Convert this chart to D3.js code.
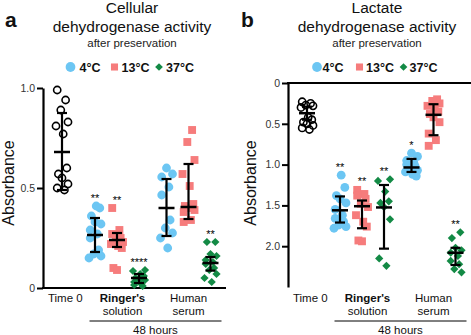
<!DOCTYPE html>
<html><head><meta charset="utf-8">
<script src="https://cdn.jsdelivr.net/npm/d3@7"></script>
<style>body{margin:0;background:#fff} svg{display:block;font-family:"Liberation Sans",Arial,Helvetica,sans-serif}</style>
</head><body><svg id="c" width="471" height="335"></svg>
<script>
// ---------- DATA ----------
const conditions = ["Time 0", "Ringer 4°C", "Ringer 13°C", "Ringer 37°C", "Serum 4°C", "Serum 13°C", "Serum 37°C"];
const conditionType = ["t0", "c4", "c13", "c37", "c4", "c13", "c37"];
const groupLabels = [["Time 0"], ["Ringer's", "solution"], ["Human", "serum"]];
const legendLabels = ["4°C", "13°C", "37°C"];
const periodLabel = "48 hours";

// Panel a: cellular dehydrogenase activity
const a_time0    = [0.99, 0.94, 0.89, 0.83, 0.81, 0.77, 0.60, 0.57, 0.55, 0.52, 0.50, 0.49];
const a_ringer4  = [0.41, 0.40, 0.36, 0.33, 0.32, 0.29, 0.27, 0.25, 0.19, 0.17, 0.16, 0.15];
const a_ringer13 = [0.40, 0.29, 0.27, 0.25, 0.24, 0.23, 0.22, 0.21, 0.20, 0.10, 0.09];
const a_ringer37 = [0.09, 0.085, 0.07, 0.06, 0.05, 0.045, 0.04, 0.03, 0.02, 0.015, 0.01];
const a_serum4   = [0.60, 0.57, 0.555, 0.505, 0.465, 0.34, 0.30, 0.275, 0.25, 0.20];
const a_serum13  = [0.79, 0.73, 0.64, 0.57, 0.51, 0.42, 0.41, 0.40, 0.39, 0.38, 0.34, 0.33];
const a_serum37  = [0.23, 0.23, 0.17, 0.16, 0.14, 0.13, 0.12, 0.10, 0.09, 0.07, 0.05, 0.03];
const a_center = [0.68, 0.265, 0.24, 0.05, 0.40, 0.405, 0.125];
const a_low    = [0.49, 0.18, 0.205, 0.025, 0.26, 0.345, 0.087];
const a_high   = [0.875, 0.35, 0.275, 0.07, 0.545, 0.62, 0.155];
const a_stars  = ["", "**", "**", "****", "", "", "**"];
const a_ticks  = [0, 0.5, 1.0];

// Panel b: lactate dehydrogenase activity (reversed axis)
const b_time0    = [0.23, 0.25, 0.27, 0.28, 0.30, 0.42, 0.45, 0.48, 0.50, 0.52, 0.55, 0.57];
const b_ringer4  = [1.13, 1.28, 1.38, 1.42, 1.47, 1.55, 1.62, 1.66, 1.70, 1.74, 1.76, 1.78];
const b_ringer13 = [1.31, 1.36, 1.38, 1.42, 1.48, 1.52, 1.62, 1.70, 1.76, 1.93, 1.94];
const b_ringer37 = [1.18, 1.20, 1.33, 1.45, 1.47, 1.52, 1.67, 2.15, 2.24];
const b_serum4   = [0.86, 0.90, 0.95, 0.98, 1.00, 1.02, 1.05, 1.07, 1.09, 1.12, 1.14];
const b_serum13  = [0.20, 0.22, 0.25, 0.28, 0.30, 0.35, 0.38, 0.42, 0.48, 0.62, 0.70, 0.77];
const b_serum37  = [1.83, 1.90, 2.02, 2.05, 2.08, 2.12, 2.18, 2.22, 2.28, 2.32];
const b_center = [0.37, 1.56, 1.51, 1.525, 1.035, 0.39, 2.08];
const b_low    = [0.29, 1.39, 1.44, 1.25, 0.93, 0.26, 2.02];
const b_high   = [0.45, 1.71, 1.78, 2.03, 1.09, 0.64, 2.23];
const b_stars  = ["", "**", "**", "**", "*", "", "**"];
const b_ticks  = [0, 0.5, 1.0, 1.5, 2.0];

// ---------- STYLE / LAYOUT ----------
const colors = {t0: "#000", c4: "#6cc6f3", c13: "#f67c7c", c37: "#138a45"};
const slots = [0, 1.5, 2.5, 3.5, 4.75, 5.75, 6.75];
const labelSlots = [0.15, 2.75, 5.75];
const JIT = [-4, 3, -1, 5, -5, 1, 4, -3, 0, 5, -4, 2];

const svg = d3.select("#c");
svg.append("rect").attr("width", 471).attr("height", 335).attr("fill", "#fff");

function panel(cfg) {
  const g = svg.append("g");
  const y = d3.scaleLinear().domain(cfg.domain).range(cfg.range);
  const x = d3.scaleLinear().domain([0, 6.75]).range([cfg.ax + 19, cfg.ax + 167.5]);

  // titles
  g.append("text").attr("x", cfg.tx).attr("y", 13).attr("text-anchor", "middle")
    .attr("font-size", 15.5).attr("fill", "#111").text(cfg.title1);
  g.append("text").attr("x", cfg.tx).attr("y", 32).attr("text-anchor", "middle")
    .attr("font-size", 15.5).attr("fill", "#111").text(cfg.title2);
  g.append("text").attr("x", cfg.tx).attr("y", 47).attr("text-anchor", "middle")
    .attr("font-size", 11.5).attr("fill", "#222").text("after preservation");
  g.append("text").attr("x", cfg.lx).attr("y", 27).attr("font-size", 21)
    .attr("font-weight", "bold").attr("fill", "#111").text(cfg.letter);

  // legend
  const legTypes = ["c4", "c13", "c37"];
  const legSym = [d3.symbolCircle, d3.symbolSquare, d3.symbolSquare];
  const legSize = [75, 50, 30];
  legTypes.forEach((t, i) => {
    g.append("path").attr("d", d3.symbol(legSym[i], legSize[i])())
      .attr("transform", `translate(${cfg.legSym[i]},67)` + (i === 2 ? " rotate(45)" : ""))
      .attr("fill", colors[t]);
    g.append("text").attr("x", cfg.legTxt[i]).attr("y", 71.5).attr("font-size", 12.5)
      .attr("font-weight", "bold").attr("fill", "#111").text(legendLabels[i]);
  });

  // y axis
  const ax = g.append("g").attr("transform", `translate(${cfg.ax},0)`)
    .call(d3.axisLeft(y).tickValues(cfg.ticks).tickSize(6).tickSizeOuter(0).tickPadding(2)
      .tickFormat(d => d === 0 ? "0" : d3.format(".1f")(d)));
  ax.select(".domain").attr("stroke", "#000").attr("stroke-width", 2.2);
  ax.selectAll(".tick line").attr("stroke", "#000").attr("stroke-width", 2);
  ax.selectAll(".tick text").attr("font-size", 10.5).attr("fill", "#333")
    .attr("font-family", "Liberation Sans, Arial, sans-serif");
  // x baseline
  g.append("line").attr("x1", cfg.ax - 1).attr("x2", cfg.xEnd)
    .attr("y1", y(0)).attr("y2", y(0)).attr("stroke", "#000").attr("stroke-width", 2.2);

  g.append("text").attr("transform", `translate(${cfg.ylx},${183}) rotate(-90)`)
    .attr("text-anchor", "middle").attr("font-size", 16).attr("fill", "#111").text("Absorbance");

  // points
  cfg.series.forEach((vals, i) => {
    const t = conditionType[i];
    const cx = x(slots[i]);
    vals.forEach((v, j) => {
      const dx = JIT[(j + i * 5) % JIT.length] * 1.2;
      const px = cx + dx, py = y(v);
      if (t === "t0") {
        g.append("circle").attr("cx", px).attr("cy", py).attr("r", 3.6)
          .attr("fill", "none").attr("stroke", "#000").attr("stroke-width", 1.6);
      } else if (t === "c4") {
        g.append("circle").attr("cx", px).attr("cy", py).attr("r", 4.4).attr("fill", colors.c4);
      } else if (t === "c13") {
        g.append("path").attr("d", d3.symbol(d3.symbolSquare, 62)())
          .attr("transform", `translate(${px},${py})`).attr("fill", colors.c13);
      } else {
        g.append("path").attr("d", d3.symbol(d3.symbolSquare, 34)())
          .attr("transform", `translate(${px},${py}) rotate(45)`).attr("fill", colors.c37);
      }
    });
  });

  // error bars
  cfg.center.forEach((c, i) => {
    const cx = x(slots[i]);
    const eb = g.append("g").attr("stroke", "#000").attr("stroke-width", 2.2);
    eb.append("line").attr("x1", cx).attr("x2", cx).attr("y1", y(cfg.low[i])).attr("y2", y(cfg.high[i]));
    eb.append("line").attr("x1", cx - 5).attr("x2", cx + 5).attr("y1", y(cfg.low[i])).attr("y2", y(cfg.low[i]));
    eb.append("line").attr("x1", cx - 5).attr("x2", cx + 5).attr("y1", y(cfg.high[i])).attr("y2", y(cfg.high[i]));
    eb.append("line").attr("x1", cx - 8).attr("x2", cx + 8).attr("y1", y(c)).attr("y2", y(c)).attr("stroke-width", 2.5);
  });

  // significance stars
  cfg.stars.forEach((s, i) => {
    if (!s) return;
    const vals = cfg.series[i];
    const topV = cfg.reversed ? d3.min(vals) : d3.max(vals);
    g.append("text").attr("x", x(slots[i])).attr("y", y(topV) - 4.5)
      .attr("text-anchor", "middle").attr("font-size", 11).attr("fill", "#000").text(s);
  });

  // category labels
  groupLabels.forEach((lines, i) => {
    lines.forEach((ln, k) => {
      g.append("text").attr("x", x(labelSlots[i])).attr("y", 302 + k * 12.5)
        .attr("text-anchor", "middle").attr("font-size", 11.5)
        .attr("font-weight", (i === 1 && k === 0) ? "bold" : "normal")
        .attr("fill", "#111").text(ln);
    });
  });
  g.append("line").attr("x1", x(1.25)).attr("x2", x(7.25)).attr("y1", 321).attr("y2", 321)
    .attr("stroke", "#000").attr("stroke-width", 1);
  g.append("text").attr("x", x(4.25)).attr("y", 333.5).attr("text-anchor", "middle")
    .attr("font-size", 11.5).attr("fill", "#111").text(periodLabel);
}

panel({
  letter: "a", lx: 5, tx: 132, title1: "Cellular", title2: "dehydrogenase activity",
  legSym: [70.5, 114.5, 159], legTxt: [79.5, 121.5, 166],
  ax: 43, xEnd: 226, ylx: 14, domain: [0, 1], range: [288, 88], ticks: a_ticks, reversed: false,
  series: [a_time0, a_ringer4, a_ringer13, a_ringer37, a_serum4, a_serum13, a_serum37],
  center: a_center, low: a_low, high: a_high, stars: a_stars
});
panel({
  letter: "b", lx: 241, tx: 377, title1: "Lactate", title2: "dehydrogenase activity",
  legSym: [317, 359.5, 403.5], legTxt: [322.5, 366, 409.5],
  ax: 288, xEnd: 471, ylx: 256, domain: [0, 2.5], range: [83, 287], ticks: b_ticks, reversed: true,
  series: [b_time0, b_ringer4, b_ringer13, b_ringer37, b_serum4, b_serum13, b_serum37],
  center: b_center, low: b_low, high: b_high, stars: b_stars
});
</script></body></html>
